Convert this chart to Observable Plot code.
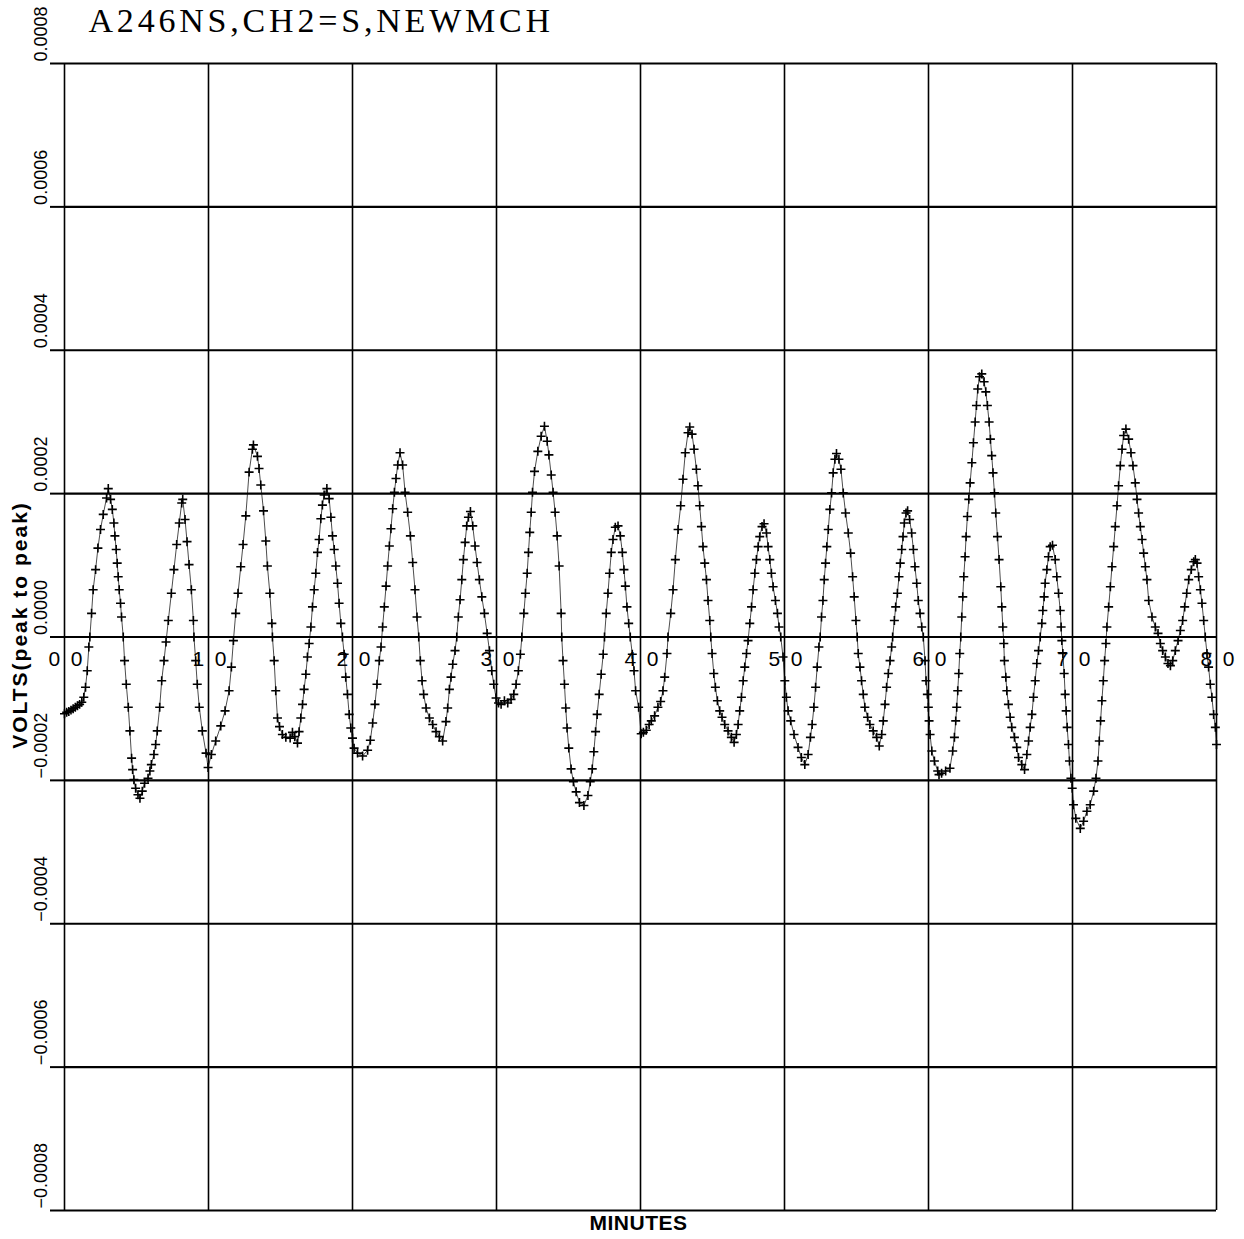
<!DOCTYPE html>
<html>
<head>
<meta charset="utf-8">
<script src="https://cdn.jsdelivr.net/npm/d3@7"></script>
<script src="https://cdn.jsdelivr.net/npm/@observablehq/plot@0.6"></script>
<style>
  html, body { margin: 0; padding: 0; background: #fff; }
  #chart { width: 1244px; height: 1239px; }
</style>
</head>
<body>
<div id="chart"></div>
<script>
// ---- Chart text ----
const chartTitle = "A246NS,CH2=S,NEWMCH";
const yLabel = "VOLTS(peak to peak)";
const xLabel = "MINUTES";

// ---- Axis ticks ----
const xTicks = [0, 10, 20, 30, 40, 50, 60, 70, 80];
const yTicks = [-0.0008, -0.0006, -0.0004, -0.0002, 0, 0.0002, 0.0004, 0.0006, 0.0008];

// ---- Series: time (minutes) ----
const minutes = [
0.00,0.15,0.30,0.45,0.60,0.75,0.90,1.05,1.20,1.34,1.46,1.58,1.69,1.76,1.88,1.99,2.16,2.32,2.50,2.69,2.92,3.04,
3.20,3.32,3.43,3.50,3.59,3.66,3.73,3.80,3.89,3.96,4.08,4.17,4.29,4.43,4.54,4.66,4.73,4.82,4.94,5.10,5.24,
5.40,5.56,5.80,5.93,6.03,6.21,6.33,6.44,6.61,6.75,6.91,7.05,7.21,7.42,7.60,7.79,7.97,8.14,8.21,
8.37,8.51,8.65,8.81,8.95,8.99,9.11,9.22,9.36,9.57,9.83,9.97,
10.20,10.50,10.85,11.15,11.43,11.59,11.73,11.89,12.05,12.24,12.40,12.59,12.82,13.05,13.12,
13.40,13.51,13.63,13.82,13.98,14.09,14.26,14.40,14.44,14.56,14.67,14.79,14.93,15.13,15.37,15.67,15.83,15.99,16.18,
16.29,16.41,16.53,16.64,16.76,16.87,16.99,17.11,17.22,17.34,17.45,17.57,17.68,17.80,17.91,18.03,18.22,
18.38,18.50,18.61,18.73,18.84,18.96,19.07,19.19,19.30,19.42,19.53,19.65,19.77,19.88,20.00,20.11,20.35,20.70,
21.05,21.24,21.40,21.56,21.70,21.86,21.98,22.09,22.21,22.33,22.44,22.56,22.67,22.79,22.91,23.02,23.14,23.30,
23.48,23.65,23.83,24.02,24.18,24.34,24.48,24.60,24.71,24.83,24.94,25.11,25.34,25.57,25.80,26.03,26.26,
26.49,26.61,26.73,26.84,26.96,27.12,27.24,27.35,27.47,27.59,27.70,27.82,27.93,28.05,28.19,
28.35,28.51,28.65,28.81,28.98,29.16,29.35,29.51,29.67,29.81,29.97,30.14,30.32,30.55,30.78,31.01,31.20,
31.36,31.52,31.66,31.76,31.90,32.01,32.13,32.22,32.31,32.41,32.50,32.64,32.87,33.10,33.33,
33.52,33.64,33.80,33.93,34.07,34.21,34.35,34.49,34.53,34.62,34.72,34.81,34.90,35.02,35.18,35.34,35.53,35.76,36.07,
36.35,36.51,36.65,36.76,36.88,36.99,37.13,37.27,37.41,37.50,37.62,37.74,37.85,37.97,38.09,38.25,38.44,
38.60,38.74,38.85,38.95,39.06,39.18,39.29,39.43,39.55,39.66,39.87,40.05,
40.20,40.40,40.60,40.75,40.98,41.21,41.40,41.56,41.68,41.84,41.91,42.10,42.26,42.42,42.61,42.79,42.95,43.11,43.30,43.42,
43.58,43.72,43.88,43.99,44.11,44.23,44.34,44.46,44.58,44.69,44.81,44.88,44.97,45.09,45.20,45.34,45.50,45.66,45.85,46.08,46.31,46.50,
46.66,46.78,46.89,47.01,47.13,47.24,47.36,47.47,47.59,47.71,47.82,47.94,48.05,48.17,48.28,48.44,48.58,
48.75,48.86,48.98,49.09,49.21,49.37,49.51,49.62,49.74,49.90,50.02,50.13,50.25,50.43,50.66,50.94,51.17,51.41,
51.64,51.80,51.92,52.04,52.16,52.27,52.39,52.48,52.57,52.67,52.76,52.85,52.94,53.04,53.15,53.27,53.38,53.50,53.61,
53.78,53.92,54.08,54.24,54.43,54.59,54.73,54.84,54.96,55.05,55.12,55.24,55.35,55.47,55.58,55.77,55.93,56.16,56.40,56.58,
56.75,56.86,56.98,57.09,57.21,57.33,57.44,57.51,57.63,57.72,57.84,57.95,58.04,58.14,58.23,58.32,58.44,58.55,
58.69,58.83,58.95,59.06,59.18,59.29,59.41,59.53,59.64,59.76,59.83,59.92,59.99,60.04,60.11,60.23,60.41,60.64,60.73,
60.91,61.19,61.49,61.68,61.80,61.89,61.96,62.03,62.10,62.17,62.24,62.31,62.38,62.45,62.54,62.61,62.70,62.80,62.89,
63.01,63.12,63.24,63.33,63.42,63.54,63.70,
63.86,63.98,64.09,64.21,64.30,64.39,64.48,64.58,64.67,64.79,64.90,65.02,65.09,65.16,65.23,65.27,65.37,65.44,65.55,
65.67,65.78,65.97,66.13,66.25,66.48,66.67,
66.83,66.95,67.06,67.18,67.29,67.41,67.52,67.64,67.76,67.87,67.94,68.03,68.10,68.22,68.33,68.45,68.61,
68.80,68.91,69.03,69.15,69.21,69.26,69.33,69.42,69.49,69.56,69.63,69.72,69.79,69.89,69.98,70.07,70.23,70.54,
70.77,71.00,71.23,71.47,71.63,71.77,71.86,71.95,72.04,72.14,72.23,72.32,72.39,72.51,72.63,72.74,72.86,72.97,
73.09,73.20,73.32,73.44,73.55,73.71,
73.90,74.06,74.20,74.36,74.48,74.59,74.71,74.83,74.94,75.06,75.17,75.29,75.52,75.75,75.94,76.10,76.26,76.45,76.63,76.80,
76.96,77.14,77.33,77.49,77.65,77.79,77.93,78.07,78.25,78.42,78.53,
78.65,78.76,78.88,78.99,79.11,79.22,79.34,79.45,79.57,79.68,79.80,79.92,80.00
];

// ---- Series: signal (microvolts, peak to peak) ----
const microvolts = [
-107,-105,-104,-102,-100,-98,-96,-94,-91,-84,-70,-47,-14,0,33,66,94,124,150,171,194,207,
192,178,159,141,122,103,84,66,47,28,0,-33,-66,-98,-131,-169,-185,-199,-211,-220,-225,
-215,-204,-197,-187,-178,-164,-150,-131,-98,-61,-33,-7,23,61,94,129,159,187,192,
164,133,101,66,23,0,-33,-66,-98,-131,-162,-182,
-164,-145,-124,-103,-75,-42,-5,33,61,98,129,169,230,262,268,
252,235,212,176,134,99,61,19,0,-33,-75,-113,-125,-136,-140,-141,-133,-139,-148,
-132,-113,-94,-73,-52,-28,-9,14,42,66,89,118,136,165,184,198,207,
193,167,141,122,99,75,47,19,0,-24,-56,-80,-108,-127,-141,-155,-162,-166,
-158,-144,-120,-94,-66,-33,-14,14,42,71,99,127,151,179,202,221,240,257,
240,202,174,141,104,66,28,0,-33,-61,-80,-99,-113,-122,-132,-139,-145,
-118,-99,-73,-56,-38,-19,0,28,52,80,108,132,155,167,175,
155,127,104,80,56,33,5,-19,-47,-66,-85,-92,-94,-89,-92,-87,-80,
-66,-47,-24,0,33,61,89,118,146,174,202,231,259,280,294,
273,254,226,202,174,141,99,33,0,-33,-66,-99,-127,-155,-184,-202,-216,-231,-235,
-221,-202,-184,-160,-132,-108,-80,-52,-24,0,33,61,89,118,136,153,155,
141,118,94,71,42,19,0,-24,-47,-75,-98,-135,
-133,-130,-122,-117,-110,-98,-90,-75,-56,-23,0,33,66,108,150,183,220,257,285,293,
283,262,234,211,183,154,126,103,80,51,23,0,-23,-51,-70,-89,-103,-112,-122,-131,-140,-147,
-136,-122,-103,-84,-61,-42,-23,-5,19,42,66,89,108,126,140,154,158,
145,126,108,89,70,51,33,14,0,-28,-61,-84,-103,-117,-136,-154,-168,-178,
-164,-140,-122,-98,-70,-42,-14,0,28,51,80,103,126,150,178,201,229,248,256,
248,234,201,173,145,117,84,56,23,0,-23,-42,-61,-80,-98,-112,-122,-131,-140,-152,
-136,-117,-94,-70,-51,-33,-14,0,23,42,61,84,103,122,140,159,173,176,
164,145,122,98,75,51,33,14,0,-33,-61,-80,-98,-117,-136,-159,-173,-187,-192,
-190,-187,-183,-159,-140,-117,-98,-75,-51,-23,0,28,56,84,112,140,168,192,215,
243,271,300,323,346,363,367,
356,342,323,300,276,253,229,201,173,140,108,70,42,14,-9,-33,-56,-75,-94,
-112,-126,-140,-154,-168,-178,-185,
-164,-145,-126,-108,-84,-61,-37,-19,0,19,37,56,75,94,112,126,128,
108,84,61,37,14,-5,-23,-51,-80,-103,-126,-150,-173,-197,-211,-234,-253,-267,
-257,-243,-234,-215,-197,-173,-145,-117,-89,-61,-33,-9,14,42,70,98,126,154,
183,211,239,262,281,290,
276,257,239,215,192,173,154,136,117,98,80,51,28,14,5,-9,-19,-28,-37,-40,
-33,-19,-5,9,23,42,61,80,94,105,108,
103,84,66,47,23,0,-23,-42,-66,-84,-108,-126,-150
];

// Table built from the arrays
const data = minutes.map((t, i) => ({ t, v: microvolts[i] * 1e-6 }));

const fmtY = d => (d < 0 ? "\u2212" : "") + Math.abs(d).toFixed(4);
const fmtX = d => `${d / 10}\u2002${0}`;

const plot = Plot.plot({
  width: 1244,
  height: 1239,
  marginLeft: 64,
  marginRight: 28,
  marginTop: 63,
  marginBottom: 29,
  style: { background: "#fff", color: "#000" },
  x: { domain: [0, 80], axis: null },
  y: { domain: [-0.0008, 0.0008] },
  marks: [
    Plot.ruleY(yTicks, { stroke: "#000", strokeWidth: 2.2 }),
    Plot.ruleX(xTicks, { stroke: "#000", strokeWidth: 1.6 }),
    Plot.axisY({ ticks: yTicks, tickSize: 14, tickFormat: () => "", label: null, strokeWidth: 2 }),
    Plot.line(data, { x: "t", y: "v", stroke: "#000", strokeWidth: 0.7 }),
    Plot.dot(data, { x: "t", y: "v", symbol: "plus", r: 3, stroke: "#000", strokeWidth: 1.6 }),
    // y tick labels, rotated
    Plot.text(yTicks, {
      y: d => d, frameAnchor: "left", rotate: -90, textAnchor: "start", lineAnchor: "middle",
      text: fmtY, dx: -23, dy: -2, fontSize: 18, fontFamily: "Liberation Sans", fill: "#000"
    }),
    // x tick labels along the zero line
    Plot.text(xTicks, {
      x: d => d, y: () => 0, text: fmtX, textAnchor: "middle", lineAnchor: "middle",
      dy: 22, dx: 1, fontSize: 21, fontFamily: "Liberation Sans", fill: "#000"
    }),
    // y label
    Plot.text([yLabel], {
      frameAnchor: "left", rotate: -90, textAnchor: "middle", lineAnchor: "middle",
      dx: -44, dy: -12, fontSize: 21, fontWeight: "bold", fontFamily: "Liberation Sans", fill: "#000"
    }),
    // x label
    Plot.text([xLabel], {
      frameAnchor: "bottom", textAnchor: "middle", lineAnchor: "middle",
      dx: -2, dy: 13, fontSize: 21, fontWeight: "bold", fontFamily: "Liberation Sans", fill: "#000"
    }),
    // title
    Plot.text([chartTitle], {
      frameAnchor: "top-left", textAnchor: "start", lineAnchor: "middle",
      dx: 24, dy: -42, fontSize: 34, fontFamily: "Liberation Serif", fill: "#000"
    })
  ]
});

// letter spacing for plotter-style texts
d3.select(plot).selectAll("text").each(function () {
  const s = this.textContent;
  if (s === chartTitle) this.style.letterSpacing = "3.8px";
  if (s === yLabel) this.style.letterSpacing = "2px";
  if (s === xLabel) this.style.letterSpacing = "0.5px";
});
document.getElementById("chart").appendChild(plot);
</script>
</body>
</html>
